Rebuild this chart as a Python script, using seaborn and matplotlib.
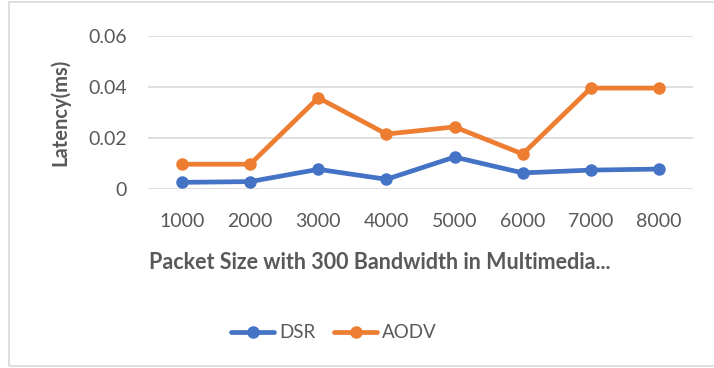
import matplotlib
matplotlib.use("Agg")
import matplotlib.pyplot as plt
import seaborn as sns
import pandas as pd
from matplotlib.patches import Rectangle
from matplotlib.lines import Line2D

packet_sizes = ["1000", "2000", "3000", "4000", "5000", "6000", "7000", "8000"]
dsr = [0.0026, 0.0029, 0.0077, 0.0038, 0.0125, 0.0063, 0.0074, 0.0078]
aodv = [0.0097, 0.0097, 0.0357, 0.0215, 0.0243, 0.0137, 0.0395, 0.0395]
series_names = ["DSR", "AODV"]
colors = ["#4472C4", "#ED7D31"]

df = pd.DataFrame({
    "Packet Size": packet_sizes * 2,
    "Latency": dsr + aodv,
    "Protocol": [series_names[0]] * len(packet_sizes) + [series_names[1]] * len(packet_sizes),
})

sns.set_theme(style="white")
plt.rcParams["font.family"] = ["Lato", "DejaVu Sans"]

fig = plt.figure(figsize=(7.14, 3.68), dpi=100)
ax = fig.add_axes([148 / 714, 1 - 189 / 368, (693 - 148) / 714, (189 - 35.7) / 368])

# outer chart frame
fig.patches.append(Rectangle((9 / 714, 2 / 368), 1.2, 364 / 368, transform=fig.transFigure,
                             fill=False, edgecolor="#D9D9D9", linewidth=1.2))

sns.lineplot(data=df, x="Packet Size", y="Latency", hue="Protocol",
             palette=colors, marker="o", markersize=9, markeredgewidth=0,
             linewidth=3.4, ax=ax, legend=False, sort=False)

ax.set_xlim(-0.5, len(packet_sizes) - 0.5)
ax.set_ylim(0, 0.06)
ax.set_yticks([0, 0.02, 0.04, 0.06])
ax.set_yticklabels(["0", "0.02", "0.04", "0.06"])
ax.yaxis.grid(True, color="#D9D9D9", linewidth=1.2)
ax.set_axisbelow(True)
for s in ax.spines.values():
    s.set_visible(False)
ax.tick_params(axis="both", length=0, labelsize=14, colors="#595959")
ax.tick_params(axis="y", pad=15)
ax.tick_params(axis="x", pad=17)

ax.set_xlabel("Packet Size with 300 Bandwidth in Multimedia...", fontsize=15.5,
              fontweight="bold", color="#595959")
ax.xaxis.set_label_coords(232 / 545, -(252 - 189) / 153.3)
ax.set_ylabel("Latency(ms)", fontsize=14.5, fontweight="bold", color="#595959", labelpad=13)

handles = [Line2D([0], [0], color=c, linewidth=3.4, marker="o", markersize=9,
                  markeredgewidth=0) for c in colors]
fig.legend(handles, series_names, loc="center", bbox_to_anchor=(334 / 714, 1 - 333 / 368),
           ncol=2, frameon=False, fontsize=13.5, labelcolor="#595959",
           handlelength=2.3, columnspacing=1.0, handletextpad=0.25)

fig.savefig("out.png", dpi=100, facecolor="white")
